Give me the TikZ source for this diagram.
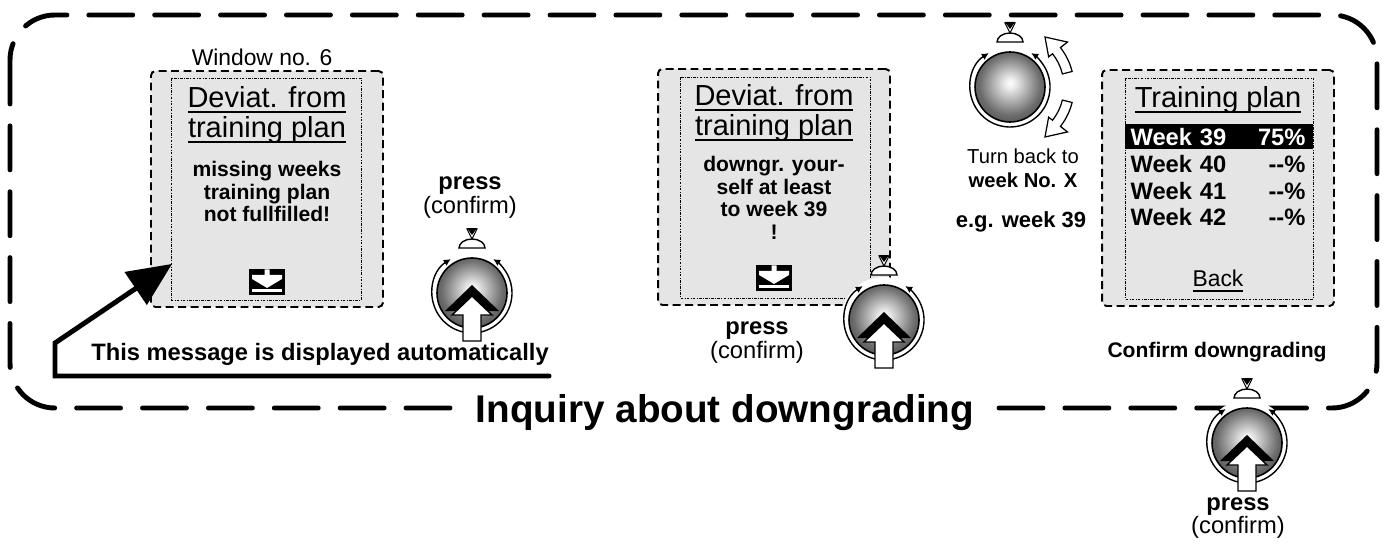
\documentclass[tikz,border=0pt]{standalone}
\usepackage{fontspec}
\setmainfont{Liberation Sans}
\usetikzlibrary{positioning,arrows.meta}

\definecolor{screengray}{gray}{0.9}

% gray ball of the rotary knob
\pgfdeclareradialshading{knobshade}{\pgfpoint{0bp}{3bp}}{color(0bp)=(white); color(4bp)=(white!92!black); color(22bp)=(black!58); color(34bp)=(black!74); color(50bp)=(black!80)}

% underline with a heavier bar
\newcommand{\ulbar}[1]{\setbox0=\hbox{#1}\leavevmode\rlap{\rule[-3.2pt]{\wd0}{1.1pt}}\box0}

\tikzset{
  frameline/.style={line width=2.8pt, dash pattern=on 25pt off 12.5pt, line cap=round, rounded corners=0.9cm},
  window/.style={draw, fill=screengray, line width=1.1pt, dash pattern=on 4.5pt off 2.6pt, rounded corners=2.5pt,
    minimum width=4.64cm, minimum height=4.72cm, inner sep=0pt},
  screen/.style={draw, line width=0.4pt, dash pattern=on 1.5pt off 0.8pt on 0.4pt off 0.8pt},
  head/.style={font=\fontsize{16.5}{17}\selectfont, align=center, inner sep=0pt},
  msg/.style={font=\bfseries\fontsize{12}{13}\selectfont, align=center, inner sep=0pt},
  weekrow/.style={font=\bfseries\fontsize{13.5}{14}\selectfont, text width=3.5cm, inner sep=0pt},
  presslabel/.style={font=\fontsize{13.5}{13.6}\selectfont, align=center, inner sep=0pt},
  note/.style={font=\bfseries\fontsize{13.5}{14}\selectfont, inner sep=0pt},
  bigarrow/.style={line width=2.8pt, line cap=round, -{Triangle[length=25pt, width=22pt]}},
  pics/knob/.style={code={
    \fill[white] (0,0) circle[radius=43];
    \shadedraw[shading=knobshade, line width=0.9pt] (0,0) circle[radius=35];
    \draw[line width=0.8pt, {Latex[length=4pt,width=4pt]}-{Latex[length=4pt,width=4pt]}]
      (122:40) arc[start angle=122, end angle=418, radius=40];
    \draw[fill=white, line width=0.8pt] (-13,45) arc[start angle=180, end angle=0, x radius=13, y radius=9] -- cycle;
    \draw[fill=white, line width=0.6pt] (0,54) -- (-5,64) -- (5,64) -- cycle;
    \fill (0,58) -- (-5,65) -- (5,65) -- cycle;
  }},
  pics/pushknob/.style={code={
    \pic {knob};
    \fill (0,8) -- (-27,-18) -- (27,-18) -- cycle;
    \draw[fill=white, line width=0.8pt] (0,-3) -- (-20,-22) -- (-9,-22) -- (-9,-48)
      -- (9,-48) -- (9,-22) -- (20,-22) -- cycle;
  }},
  pics/downicon/.style={code={
    \fill (-18,-13) rectangle (18,13);
    \fill[white] (-2.5,12.5) -- (2.5,12.5) -- (2.5,7) -- (15,7) -- (15,3) -- (0,-6)
      -- (-15,3) -- (-15,7) -- (-2.5,7) -- cycle;
    \fill[white] (-15,-7.5) rectangle (15,-9.8);
  }}
}

\begin{document}
\begin{tikzpicture}[x=0.02cm, y=0.02cm]
\useasboundingbox (0,0) rectangle (1388,-547);

% outer frame
\draw[frameline] (10,-15) rectangle (1377,-408);

% first window
\node[window] (win1) at (267,-189) {};
\draw[screen] ([shift={(21,-8)}]win1.north west) rectangle ([shift={(-23,8)}]win1.south east);
\node[font=\fontsize{13}{14}\selectfont, inner sep=0pt] (winno) at (262,-57) {Window no. 6};
\node[head, below=0.32cm of win1.north] (head1) {\ulbar{Deviat. from}\\\ulbar{training plan}};
\node[msg, below=0.34cm of head1] (msg1) {missing weeks\\training plan\\not fullfilled!};
\pic at ([yshift=0.52cm]win1.south) {downicon};

\node[presslabel] (press1) at (470,-198) {\textbf{press}\\(confirm)};
\pic at (472,-293) {pushknob};

% second window
\node[window] (win2) at (774,-187) {};
\draw[screen] ([shift={(23,-9)}]win2.north west) rectangle ([shift={(-21,8)}]win2.south east);
\node[head, below=0.32cm of win2.north] (head2) {\ulbar{Deviat. from}\\\ulbar{training plan}};
\node[msg, below=0.28cm of head2] (msg2) {downgr. your-\\self at least\\to week 39\\!};
\pic at ([yshift=0.56cm]win2.south) {downicon};

\node[presslabel] (press2) at (757,-343) {\textbf{press}\\(confirm)};
\pic at (884,-320) {pushknob};

% turning the knob
\coordinate (k3) at (1010,-87);
\pic at (k3) {knob};
\begin{scope}[shift={(k3)}]
  \draw[fill=white, line width=0.7pt] (14:54) arc[start angle=14, end angle=38, radius=54]
    -- (38:49) -- (55:61) -- (38:73) -- (38:64) arc[start angle=38, end angle=14, radius=64] -- cycle;
  \draw[fill=white, line width=0.7pt] (-14:54) arc[start angle=-14, end angle=-38, radius=54]
    -- (-38:49) -- (-55:61) -- (-38:73) -- (-38:64) arc[start angle=-38, end angle=-14, radius=64] -- cycle;
\end{scope}
\node[font=\fontsize{11.5}{13.5}\selectfont, align=center, inner sep=0pt] (turn) at (1023,-168)
  {Turn back to\\\textbf{week No. X}};
\node[font=\bfseries\fontsize{12.5}{14}\selectfont, inner sep=0pt] (eg) at (1021,-222) {e.g. week 39};

% third window
\node[window] (win3) at (1218,-188) {};
\draw[screen] ([shift={(24,-9)}]win3.north west) rectangle ([shift={(-22,8)}]win3.south east);
\node[head, below=0.34cm of win3.north] (head3) {\ulbar{Training plan}};
\fill ([shift={(24,-55)}]win3.north west) rectangle ([shift={(-22,-80)}]win3.north east);
\path (win3.north) ++(0,-68) node[weekrow, text=white] (w39) {Week 39\hfill 75\%}
  ++(0,-27) node[weekrow] (w40) {Week 40\hfill -{}-\%}
  ++(0,-27) node[weekrow] (w41) {Week 41\hfill -{}-\%}
  ++(0,-26) node[weekrow] (w42) {Week 42\hfill -{}-\%};
\path (win3.south) ++(0,26) node[font=\fontsize{13}{14}\selectfont, inner sep=0pt] (back) {\ulbar{Back}};
\node[font=\bfseries\fontsize{12}{13}\selectfont, inner sep=0pt] (confirm) at (1217,-352) {Confirm downgrading};

% automatic message
\node[note] (auto) at (320,-354) {This message is displayed automatically};
\coordinate (c1) at (55,-376);
\coordinate (c2) at (55,-343);
\draw[bigarrow] (auto.east |- c1) -- (c1) -- (c2) -- ([shift={(22,44)}]win1.south west);

% title on the frame
\node[fill=white, inner xsep=8pt, inner ysep=2pt, font=\bfseries\fontsize{22}{24}\selectfont] (title) at (725,-413)
  {Inquiry about downgrading};

\pic at (1247,-443) {pushknob};
\node[presslabel] (press4) at (1238,-518) {\textbf{press}\\(confirm)};

\end{tikzpicture}
\end{document}
